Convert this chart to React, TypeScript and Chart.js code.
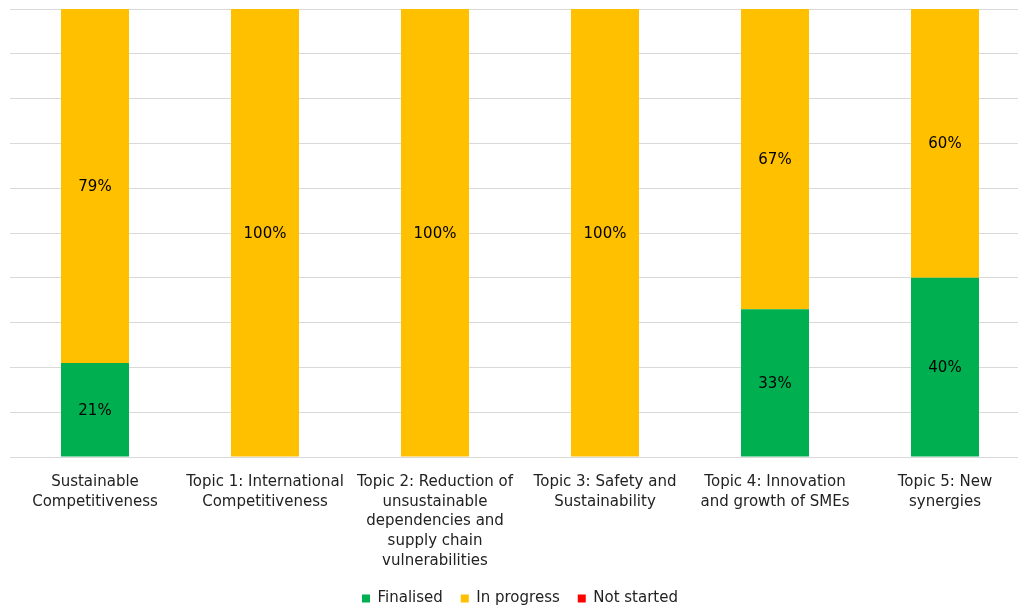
import React, { useEffect, useRef } from "react";
import { Chart, registerables } from "chart.js";

Chart.register(...registerables);

const categories: string[][] = [
  ["Sustainable", "Competitiveness"],
  ["Topic 1: International", "Competitiveness"],
  ["Topic 2: Reduction of", "unsustainable", "dependencies and", "supply chain", "vulnerabilities"],
  ["Topic 3: Safety and", "Sustainability"],
  ["Topic 4: Innovation", "and growth of SMEs"],
  ["Topic 5: New", "synergies"],
];
const finalised = [21, 0, 0, 0, 33, 40];
const inProgress = [79, 100, 100, 100, 67, 60];
const notStarted = [0, 0, 0, 0, 0, 0];

const FONT = "'DejaVu Sans', Tahoma, Verdana, sans-serif";

const labelPlugin = {
  id: "segLabels",
  afterDatasetsDraw(chart: any) {
    const ctx = chart.ctx;
    ctx.save();
    ctx.font = `15px ${FONT}`;
    ctx.fillStyle = "#000000";
    ctx.textAlign = "center";
    ctx.textBaseline = "middle";
    chart.data.datasets.forEach((ds: any, di: number) => {
      const meta = chart.getDatasetMeta(di);
      if (meta.hidden) return;
      meta.data.forEach((el: any, i: number) => {
        const v = ds.data[i];
        if (!v) return;
        const p = el.getProps(["x", "y", "base"], true);
        ctx.fillText(`${v}%`, p.x, (p.y + p.base) / 2 + 1);
      });
    });
    ctx.restore();
  },
};

export default function App() {
  const ref = useRef<HTMLCanvasElement | null>(null);
  useEffect(() => {
    document.body.style.margin = "0";
    if (!ref.current) return;
    const chart = new Chart(ref.current, {
      type: "bar",
      data: {
        labels: categories,
        datasets: [
          { label: "Finalised", data: finalised, backgroundColor: "#00B050" },
          { label: "In progress", data: inProgress, backgroundColor: "#FFC000" },
          { label: "Not started", data: notStarted, backgroundColor: "#FF0000" },
        ],
      },
      options: {
        animation: false,
        responsive: false,
        maintainAspectRatio: false,
        layout: { padding: { left: 2, right: 12, top: 1, bottom: 0 } },
        datasets: { bar: { barPercentage: 1, categoryPercentage: 0.4 } },
        scales: {
          x: {
            stacked: true,
            grid: { display: false },
            border: { display: true, color: "#d9d9d9", width: 1 },
            ticks: {
              color: "#222222",
              font: { family: FONT, size: 15, lineHeight: 1.32 },
              maxRotation: 0,
              minRotation: 0,
              autoSkip: false,
              padding: 7,
            },
            afterFit: (s: any) => {
              s.height = 116;
            },
          },
          y: {
            stacked: true,
            min: 0,
            max: 100,
            ticks: { display: false, stepSize: 10 },
            grid: { color: "#d9d9d9", lineWidth: 1, drawTicks: false },
            border: { display: false },
          },
        },
        plugins: {
          legend: {
            position: "bottom",
            labels: {
              boxWidth: 8,
              boxHeight: 8,
              color: "#222222",
              font: { family: FONT, size: 15 },
              padding: 18,
            },
          },
          tooltip: { enabled: false },
        },
      },
      plugins: [labelPlugin],
    });
    return () => chart.destroy();
  }, []);
  return (
    <div style={{ width: 1018, height: 609, overflow: "hidden", position: "relative" }}>
      <canvas
        ref={ref}
        width={1034}
        height={608}
        style={{ position: "absolute", left: 8, top: 8, width: 1034, height: 608, display: "block" }}
      />
    </div>
  );
}
